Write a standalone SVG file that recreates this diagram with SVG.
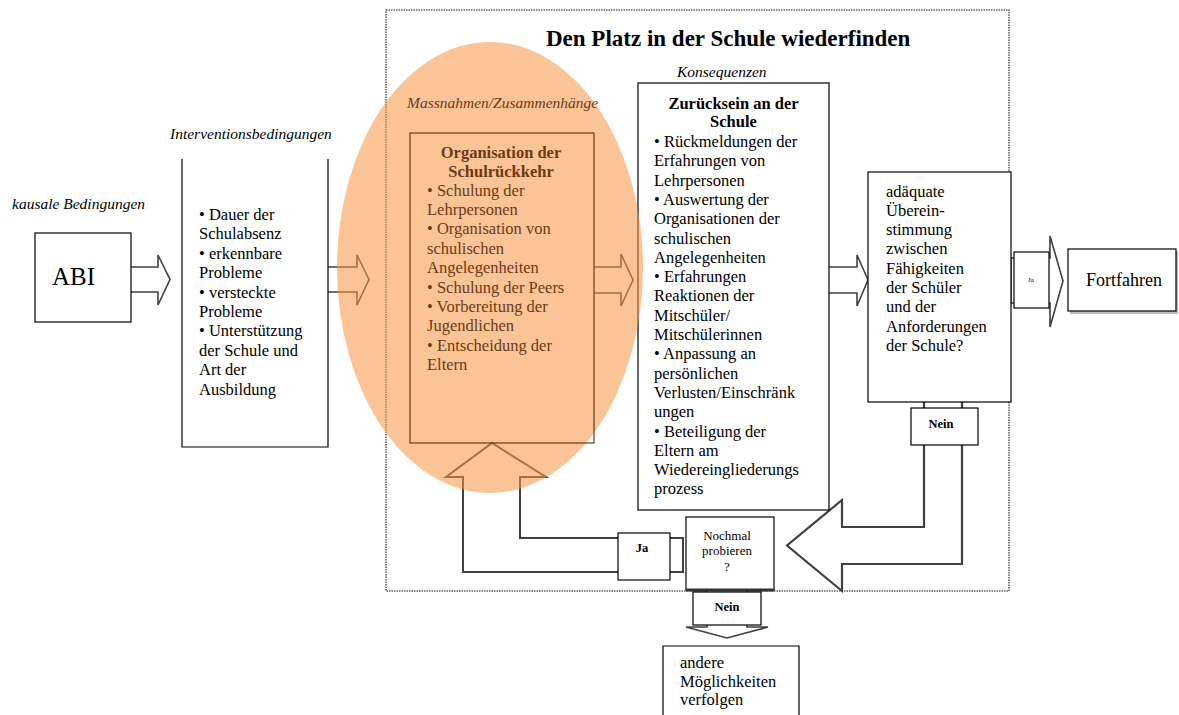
<svg xmlns="http://www.w3.org/2000/svg" width="1179" height="715" viewBox="0 0 1179 715">
<style>
text{font-family:"Liberation Serif","Times New Roman",serif;fill:#000}
.t{font-size:16.5px}
.b{font-weight:bold}
.i{font-style:italic;font-size:15.5px}
.s{font-size:13px}
.box{fill:#fff;stroke:#000;stroke-width:1.2}
.arr{fill:#fff;stroke:#404040;stroke-width:1.6;stroke-linejoin:miter}
.frame{fill:none;stroke:#666;stroke-width:1.6;stroke-dasharray:1.5 1}
.br{fill:#6e3a14}
</style>
<rect width="1179" height="715" fill="#fff"/>
<g id="frame">
<rect class="frame" x="386" y="10" width="623" height="581"/>
<text x="546" y="46" class="b" style="font-size:23px">Den Platz in der Schule wiederfinden</text>
</g>
<g id="connectors">
<path class="arr" d="M131,267 H158 V255 L170,279.5 L158,305 V292 H131"/>
<path class="arr" d="M328,267 H357 V255 L369,279.5 L357,305 V292 H328"/>
<path class="arr" d="M594,267 H621 V254 L633,280 L621,306 V293 H594"/>
<path class="arr" d="M829,267 H857 V255 L868,280 L857,306 V293 H829"/>
<path class="arr" d="M1011,258 H1050 V236 L1063,281 L1050,327 V303 H1011 Z"/>
<path class="arr" d="M924,402 V527 H842 V500 L787,545.5 L842,591 V564 H962 V402" style="stroke-width:2.2"/>
<path class="arr" d="M683,538 H520 V477 H546 L492,443 L446,477 H463 V572 H683 Z" style="stroke-width:2"/>
<path class="arr" d="M707,590 V627 H686 L727,638 L768,627 H747 V590"/>
</g>
<g id="abi">
<text x="12" y="209" class="i">kausale Bedingungen</text>
<rect class="box" x="35" y="233" width="96" height="89"/>
<text x="52" y="285" style="font-size:25px">ABI</text>
</g>
<g id="interventionen">
<text x="170" y="139" class="i">Interventionsbedingungen</text>
<path d="M182,159 V447 H328 V159" fill="#fff" stroke="#000" stroke-width="1.2"/>
<text class="t" x="199">
<tspan x="199" y="220">• Dauer der</tspan>
<tspan x="199" y="239.4">Schulabsenz</tspan>
<tspan x="199" y="258.8">• erkennbare</tspan>
<tspan x="199" y="278.2">Probleme</tspan>
<tspan x="199" y="297.6">• versteckte</tspan>
<tspan x="199" y="317">Probleme</tspan>
<tspan x="199" y="336.4">• Unterstützung</tspan>
<tspan x="199" y="355.8">der Schule und</tspan>
<tspan x="199" y="375.2">Art der</tspan>
<tspan x="199" y="394.6">Ausbildung</tspan>
</text>
</g>
<g id="konsequenzen">
<text x="677" y="77" class="i">Konsequenzen</text>
<rect class="box" x="638" y="83" width="191" height="427"/>
<text class="t b" x="733.5" y="108.5" text-anchor="middle">Zurücksein an der</text>
<text class="t b" x="733.5" y="127" text-anchor="middle">Schule</text>
<text class="t">
<tspan x="654" y="147">• Rückmeldungen der</tspan>
<tspan x="654" y="166.3">Erfahrungen von</tspan>
<tspan x="654" y="185.6">Lehrpersonen</tspan>
<tspan x="654" y="204.9">• Auswertung der</tspan>
<tspan x="654" y="224.2">Organisationen der</tspan>
<tspan x="654" y="243.5">schulischen</tspan>
<tspan x="654" y="262.8">Angelegenheiten</tspan>
<tspan x="654" y="282.1">• Erfahrungen</tspan>
<tspan x="654" y="301.4">Reaktionen der</tspan>
<tspan x="654" y="320.7">Mitschüler/</tspan>
<tspan x="654" y="340">Mitschülerinnen</tspan>
<tspan x="654" y="359.3">• Anpassung an</tspan>
<tspan x="654" y="378.6">persönlichen</tspan>
<tspan x="654" y="397.9">Verlusten/Einschränk</tspan>
<tspan x="654" y="417.2">ungen</tspan>
<tspan x="654" y="436.5">• Beteiligung der</tspan>
<tspan x="654" y="455.8">Eltern am</tspan>
<tspan x="654" y="475.1">Wiedereingliederungs</tspan>
<tspan x="654" y="494.4">prozess</tspan>
</text>
</g>
<g id="massnahmen-ellipse">
<ellipse cx="490" cy="267.5" rx="153" ry="225.5" fill="#F79646" opacity="0.56"/>
</g>
<g id="organisation">
<text x="407" y="108" class="i br">Massnahmen/Zusammenhänge</text>
<rect x="410" y="133" width="184" height="310" fill="none" stroke="#6e3a14" stroke-width="1.2"/>
<text class="t b br" x="501" y="157.5" text-anchor="middle">Organisation der</text>
<text class="t b br" x="501" y="176.5" text-anchor="middle">Schulrückkehr</text>
<text class="t br">
<tspan x="427" y="195.5">• Schulung der</tspan>
<tspan x="427" y="214.9">Lehrpersonen</tspan>
<tspan x="427" y="234.3">• Organisation von</tspan>
<tspan x="427" y="253.7">schulischen</tspan>
<tspan x="427" y="273.1">Angelegenheiten</tspan>
<tspan x="427" y="292.5">• Schulung der Peers</tspan>
<tspan x="427" y="311.9">• Vorbereitung der</tspan>
<tspan x="427" y="331.3">Jugendlichen</tspan>
<tspan x="427" y="350.7">• Entscheidung der</tspan>
<tspan x="427" y="370.1">Eltern</tspan>
</text>
</g>
<g id="uebereinstimmung">
<rect class="box" x="868" y="172" width="143" height="230"/>
<text class="t">
<tspan x="886" y="196.5">adäquate</tspan>
<tspan x="886" y="215.8">Überein-</tspan>
<tspan x="886" y="235.1">stimmung</tspan>
<tspan x="886" y="254.4">zwischen</tspan>
<tspan x="886" y="273.7">Fähigkeiten</tspan>
<tspan x="886" y="293">der Schüler</tspan>
<tspan x="886" y="312.3">und der</tspan>
<tspan x="886" y="331.6">Anforderungen</tspan>
<tspan x="886" y="350.9">der Schule?</tspan>
</text>
</g>
<g id="ja-rechts">
<rect class="box" x="1014" y="252" width="35" height="56"/>
<text x="1031" y="282" text-anchor="middle" style="font-size:7px">Ja</text>
</g>
<g id="fortfahren">
<rect x="1070" y="251" width="108" height="63" fill="#bbb"/>
<rect class="box" x="1068" y="249" width="108" height="62"/>
<text x="1086" y="286" style="font-size:18px">Fortfahren</text>
</g>
<g id="nein-rechts">
<rect class="box" x="911" y="408" width="67" height="37"/>
<text class="s b" x="941" y="428" text-anchor="middle" style="font-size:12.5px">Nein</text>
</g>
<g id="nochmal">
<rect class="box" x="686" y="517" width="88" height="73"/>
<line x1="686" y1="590" x2="774" y2="590" stroke="#333" stroke-width="3"/>
<text class="s" x="727" y="539.5" text-anchor="middle">Nochmal</text>
<text class="s" x="727" y="555" text-anchor="middle">probieren</text>
<text class="s" x="727" y="571" text-anchor="middle">?</text>
</g>
<g id="ja-links">
<rect class="box" x="618" y="533" width="52" height="47"/>
<text class="s b" x="642" y="552" text-anchor="middle" style="font-size:12.5px">Ja</text>
</g>
<g id="nein-unten">
<rect class="box" x="693" y="592" width="68" height="33"/>
<text class="s b" x="727" y="611" text-anchor="middle" style="font-size:12.5px">Nein</text>
</g>
<g id="andere">
<path d="M663,716 V646 H799 V716" fill="#fff" stroke="#000" stroke-width="1.2"/>
<text class="t">
<tspan x="680" y="668">andere</tspan>
<tspan x="680" y="686.5">Möglichkeiten</tspan>
<tspan x="680" y="705">verfolgen</tspan>
</text>
</g>
</svg>
